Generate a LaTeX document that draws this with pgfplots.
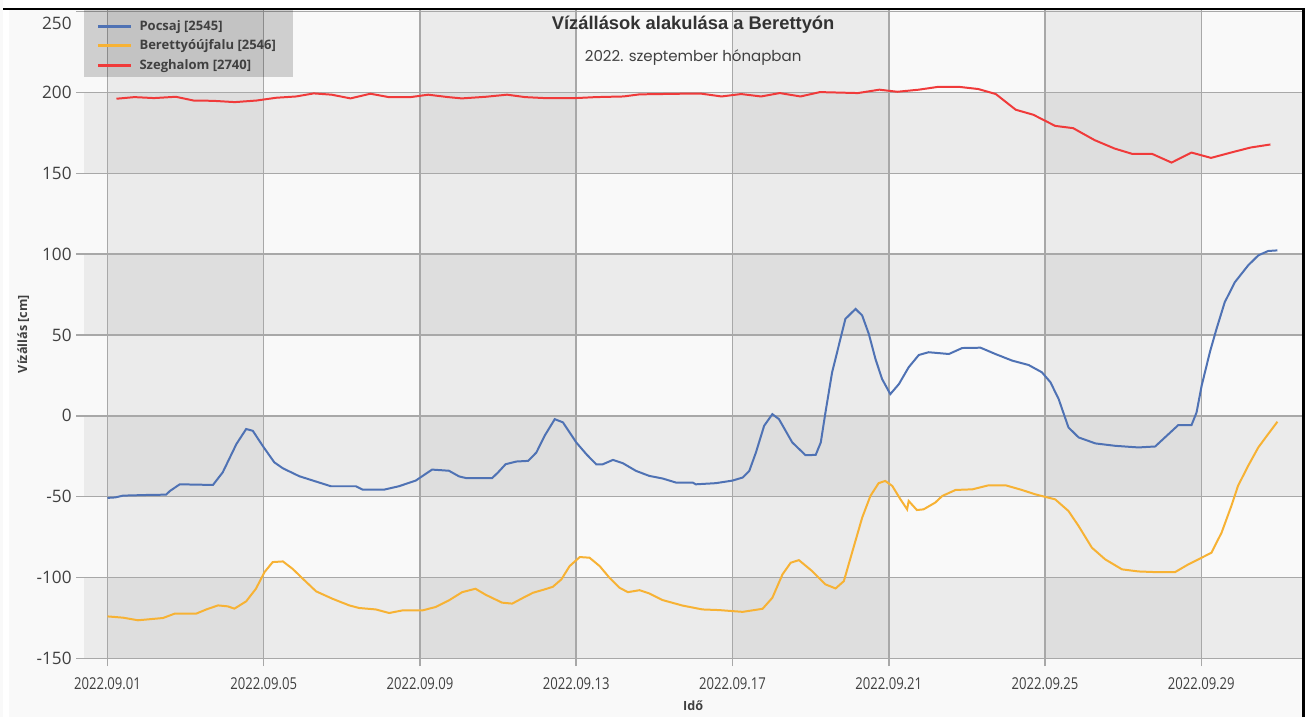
\documentclass[border=0pt]{standalone}
\usepackage{fontspec}
\usepackage{pgfplots}
\pgfplotsset{compat=1.18}
\setmainfont{Open Sans}
\newfontfamily\titlefont{Liberation Sans}
\newfontfamily\subfont{Poppins}
\newlength\px \setlength\px{0.75pt}
\definecolor{cblue}{RGB}{79,114,180}
\definecolor{corange}{RGB}{247,178,52}
\definecolor{cred}{RGB}{240,58,58}
\definecolor{bgc}{RGB}{249,249,249}
\definecolor{gridc}{RGB}{168,168,168}
\definecolor{txt}{RGB}{64,64,64}

\pgfplotstableread{
d v
1.0 -50.8
1.2 -50.5
1.4 -49.4
2.0 -49
2.5 -48.8
2.6 -46.5
2.85 -42.4
3.7 -42.8
3.95 -35
4.3 -17.5
4.55 -8.2
4.72 -9.3
4.97 -18.5
5.27 -28.8
5.49 -32.5
5.91 -37.4
6.34 -40.7
6.72 -43.6
7.36 -43.6
7.53 -45.7
8.08 -45.7
8.46 -43.6
8.89 -40.1
9.31 -33.3
9.74 -34
10.0 -37.5
10.17 -38.5
10.85 -38.5
11.0 -35
11.19 -30
11.47 -28.3
11.77 -27.9
11.98 -22.7
12.19 -12.4
12.45 -2.1
12.66 -4.1
13.0 -16.5
13.26 -23.8
13.51 -30
13.68 -30
13.94 -27.3
14.19 -29.3
14.53 -34.1
14.87 -37.2
15.21 -38.8
15.55 -41.3
15.98 -41.3
16.06 -42.4
16.57 -41.7
17.0 -40.1
17.26 -38.2
17.43 -34.1
17.6 -22.7
17.81 -6.2
18.02 1.0
18.19 -2.1
18.53 -16.5
18.87 -24.4
19.13 -24.2
19.26 -16.5
19.38 2.1
19.55 26.9
19.72 43.4
19.89 59.9
20.15 66.1
20.32 62
20.49 50.6
20.66 35.1
20.83 22.7
21.04 13.4
21.26 19.6
21.51 30
21.77 37.6
22.02 39.3
22.54 38.2
22.88 41.9
23.35 42.1
23.73 38.2
24.16 34.1
24.58 31.4
24.92 26.9
25.14 20.7
25.35 10.3
25.6 -7.2
25.86 -13.4
26.29 -17.1
26.8 -18.6
27.39 -19.6
27.82 -19
28.07 -13.4
28.41 -5.8
28.75 -5.8
28.88 2.1
29.01 18.6
29.22 39.3
29.39 53.7
29.6 70.2
29.86 82.6
30.2 93
30.46 99.2
30.71 101.9
30.95 102.3
}\pocsaj

\pgfplotstableread{
d v
1.0 -124.1
1.4 -124.9
1.78 -126.5
2.42 -125.1
2.72 -122.4
3.27 -122.4
3.53 -119.8
3.83 -117.3
4.08 -117.9
4.25 -119.3
4.55 -114.8
4.8 -107
5.02 -96.7
5.23 -90.5
5.49 -90.1
5.74 -94.7
6.0 -100.8
6.34 -108.6
6.76 -113.2
7.19 -117.3
7.44 -118.9
7.87 -119.8
8.21 -122
8.55 -120.4
9.06 -120.4
9.4 -118.3
9.74 -114.2
10.08 -109.1
10.42 -107
10.68 -110.7
11.1 -115.6
11.36 -116.2
11.64 -112.6
11.89 -109.5
12.19 -107.4
12.4 -105.8
12.62 -101.2
12.83 -93
13.09 -87.4
13.34 -87.8
13.6 -93
13.85 -100.2
14.11 -106.4
14.32 -109.1
14.62 -107.9
14.87 -109.9
15.21 -114
15.72 -117.4
16.23 -119.8
16.66 -120.2
17.26 -121.3
17.77 -119.4
18.02 -112.6
18.28 -98.1
18.49 -90.9
18.7 -89.3
19.04 -96.1
19.38 -104.3
19.64 -106.8
19.85 -102.3
20.06 -84.7
20.32 -63
20.53 -49.6
20.74 -41.7
20.91 -40.3
21.09 -43.4
21.3 -51.7
21.47 -57.9
21.51 -52.7
21.72 -58.3
21.89 -57.9
22.19 -53.7
22.37 -49.6
22.71 -45.9
23.14 -45.5
23.56 -43
23.99 -43
24.41 -45.9
24.75 -48.6
25.26 -51.7
25.6 -58.9
25.86 -68.2
26.2 -81.6
26.54 -88.8
26.97 -95
27.39 -96.3
27.82 -96.7
28.33 -96.7
28.67 -91.9
29.01 -87.8
29.26 -84.7
29.52 -72.3
29.77 -55.8
29.94 -43.4
30.2 -31
30.46 -19.6
30.71 -11.4
30.95 -3.7
}\berettyo

\pgfplotstableread{
d v
1.23 196.1
1.69 197.1
2.19 196.5
2.75 197.3
3.2 195.0
3.71 194.8
4.26 194.0
4.82 195.0
5.32 196.7
5.83 197.5
6.28 199.4
6.74 198.6
7.22 196.3
7.73 199.2
8.2 197.1
8.76 197.1
9.21 198.6
9.72 197.1
10.07 196.3
10.68 197.3
11.23 198.6
11.69 197.1
12.19 196.5
12.99 196.5
13.5 197.1
14.21 197.5
14.62 198.8
15.71 199.2
16.21 199.2
16.72 197.5
17.22 199
17.73 197.5
18.21 199.6
18.74 197.5
19.24 200.2
20.21 199.6
20.76 201.7
21.22 200.4
21.77 201.7
22.28 203.5
22.78 203.5
23.29 202.1
23.74 199
24.25 189.3
24.7 186.2
25.26 179.3
25.72 177.9
26.27 170.5
26.78 165.3
27.23 162
27.74 162
28.24 156.6
28.75 162.8
29.25 159.5
29.76 162.8
30.26 165.9
30.77 167.8
}\szeghalom

\begin{document}
\pagecolor{bgc}
\begin{tikzpicture}
\begin{axis}[
  set layers,
  at={(81\px,59\px)}, anchor=south west,
  scale only axis, width=1221\px, height=650\px,
  xmin=0.405, xmax=31.58, ymin=-150, ymax=251,
  axis line style={draw=none},
  axis background/.style={fill=bgc},
  grid=major,
  major grid style={gridc, line width=1.5\px},
  tick style={gridc, line width=1.5\px},
  tick align=outside, major tick length=8\px,
  xtick pos=bottom, ytick pos=left,
  xtick={1,5,9,13,17,21,25,29},
  xticklabels={2022.09.01,2022.09.05,2022.09.09,2022.09.13,2022.09.17,2022.09.21,2022.09.25,2022.09.29},
  ytick={-150,-100,-50,0,50,100,150,200},
  yticklabels={-150,-100,-50,0,50,100,150,200},
  extra y ticks={250}, extra y tick labels={250},
  extra y tick style={yticklabel style={yshift=-12\px}},
  xticklabel style={font=\fontsize{12.3}{14}\selectfont, text=txt, xscale=0.8, yshift=-7\px},
  yticklabel style={font=\fontsize{12.9}{15}\selectfont, text=txt},
  xlabel={Idő}, ylabel={Vízállás [cm]},
  xlabel style={at={(rel axis cs:0.5,-0.0738)}, anchor=center, font=\bfseries\fontsize{9.5}{11}\selectfont, text=txt},
  ylabel style={at={(rel axis cs:-0.04996,0.5)}, anchor=center, font=\bfseries\fontsize{9.5}{11}\selectfont, text=txt},
  legend style={at={(rel axis cs:0,1)}, anchor=north west, xshift=12.5\px, yshift=-7.5\px,
    draw=none, fill=none, inner sep=0pt, row sep=2.4\px, column sep=4\px,
    font=\bfseries\fontsize{9.8}{12}\selectfont, text=txt},
  legend cell align=left,
  legend image code/.code={\draw[#1, line width=3\px] (0,0) -- (33\px,0);},
]
\begin{pgfonlayer}{axis background}
\fill[black, fill opacity=0.056] (axis cs:1,-150) rectangle (axis cs:5,251);
\fill[black, fill opacity=0.056] (axis cs:9,-150) rectangle (axis cs:13,251);
\fill[black, fill opacity=0.056] (axis cs:17,-150) rectangle (axis cs:21,251);
\fill[black, fill opacity=0.056] (axis cs:25,-150) rectangle (axis cs:29,251);
\fill[black, fill opacity=0.056] (axis cs:0.405,-150) rectangle (axis cs:31.58,-100);
\fill[black, fill opacity=0.056] (axis cs:0.405,-50) rectangle (axis cs:31.58,0);
\fill[black, fill opacity=0.056] (axis cs:0.405,50) rectangle (axis cs:31.58,100);
\fill[black, fill opacity=0.056] (axis cs:0.405,150) rectangle (axis cs:31.58,200);
\end{pgfonlayer}
\fill[black, fill opacity=0.17] (rel axis cs:0,1) rectangle ++(209\px,-67\px);
\addplot[cblue, line width=2\px, sharp plot] table[x=d, y=v] {\pocsaj};
\addlegendentry{Pocsaj [2545]}
\addplot[corange, line width=2\px, sharp plot] table[x=d, y=v] {\berettyo};
\addlegendentry{Berettyóújfalu [2546]}
\addplot[cred, line width=2\px, sharp plot] table[x=d, y=v] {\szeghalom};
\addlegendentry{Szeghalom [2740]}
\node[font=\titlefont\bfseries\fontsize{13.8}{16}\selectfont, text=black!80, yshift=-15\px] at (rel axis cs:0.5,1) {Vízállások alakulása a Berettyón};
\node[font=\subfont\fontsize{11.3}{14}\selectfont, text=txt, yshift=-48\px] at (rel axis cs:0.5,1) {2022. szeptember hónapban};
\end{axis}
\fill[white] (0,711\px) rectangle (1311\px,719\px);
\fill[white] (0,0) rectangle (6\px,719\px);
\fill[white] (1305\px,0) rectangle (1311\px,719\px);
\draw[black, line width=2\px] (0,710\px) -- (1305\px,710\px);
\draw[black, line width=3\px] (1303.5\px,0) -- (1303.5\px,711\px);
\pgfresetboundingbox
\path[use as bounding box] (0,0) rectangle (1311\px,719\px);
\end{tikzpicture}
\end{document}
